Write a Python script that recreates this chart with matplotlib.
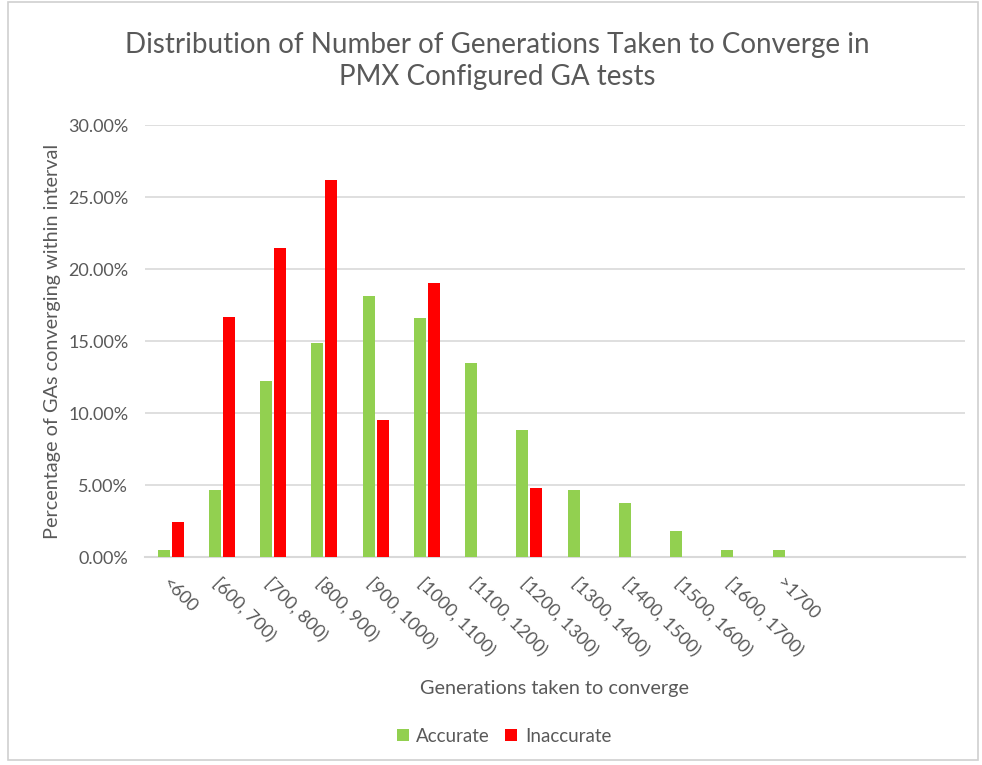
import numpy as np
import matplotlib
matplotlib.use('Agg')
import matplotlib.pyplot as plt
from matplotlib.patches import Rectangle
from matplotlib.ticker import FuncFormatter

# interval labels (Excel axis keeps 3 blank slots on the right)
categories = ['<600', '[600, 700)', '[700, 800)', '[800, 900)', '[900, 1000)',
              '[1000, 1100)', '[1100, 1200)', '[1200, 1300)', '[1300, 1400)',
              '[1400, 1500)', '[1500, 1600)', '[1600, 1700)', '>1700']
n_slots = 16

# percentages
accurate = [0.47, 4.65, 12.2, 14.85, 18.1, 16.6, 13.5, 8.8, 4.65, 3.75, 1.8, 0.47, 0.47]
inaccurate = [2.45, 16.65, 21.45, 26.2, 9.5, 19.05, 0, 4.8, 0, 0, 0, 0, 0]

green = '#92D050'
red = '#FF0000'
grey_text = '#595959'
grid_col = '#D9D9D9'

plt.rcParams['font.family'] = ['Lato', 'DejaVu Sans']

fig = plt.figure(figsize=(9.82, 7.65), dpi=100)
ax = fig.add_axes([145 / 982, 1 - 557 / 765, 820 / 982, 432 / 765])

x = np.arange(len(categories))
w = 0.235
off = 0.136
ax.bar(x - off, accurate, width=w, color=green, label='Accurate', zorder=3)
ax.bar(x + off, inaccurate, width=w, color=red, label='Inaccurate', zorder=3)

ax.set_xlim(-0.5, n_slots - 0.5)
ax.set_ylim(0, 30)
ax.set_yticks(np.arange(0, 31, 5))
ax.yaxis.set_major_formatter(FuncFormatter(lambda v, p: f'{v:.2f}%'))
ax.yaxis.grid(True, color=grid_col, linewidth=1.2, zorder=0)
ax.set_axisbelow(True)
for s in ['top', 'right', 'left']:
    ax.spines[s].set_visible(False)
ax.spines['bottom'].set_color(grid_col)
ax.spines['bottom'].set_linewidth(1.5)
ax.tick_params(axis='both', length=0, colors=grey_text, labelsize=13)
ax.tick_params(axis='y', pad=12)

ax.set_xticks(x)
ax.set_xticklabels(categories, rotation=-45, ha='left', va='top',
                   rotation_mode='anchor')
ax.tick_params(axis='x', pad=13)

ax.set_ylabel('Percentage of GAs converging within interval', fontsize=14.3,
              color=grey_text, labelpad=5)
ax.set_xlabel('Generations taken to converge', fontsize=14.3, color=grey_text)
ax.xaxis.set_label_coords(0.5, 1 - (680 - 125) / 432)

fig.text(497 / 982, 1 - 61 / 765,
         'Distribution of Number of Generations Taken to Converge in\nPMX Configured GA tests',
         ha='center', va='center', fontsize=20, color=grey_text, linespacing=1.3)

fig.legend(loc='center', bbox_to_anchor=(504 / 982, 1 - 736 / 765), ncol=2,
           frameon=False, fontsize=13.5, labelcolor=grey_text, handlelength=0.65,
           handleheight=0.65, handletextpad=0.4, columnspacing=0.8)

fig.patches.append(Rectangle((8 / 982, 5 / 765), 970 / 982, 758 / 765,
                             transform=fig.transFigure, fill=False,
                             edgecolor='#D0D0D0', linewidth=1.2))

fig.savefig('out.png', dpi=100)
